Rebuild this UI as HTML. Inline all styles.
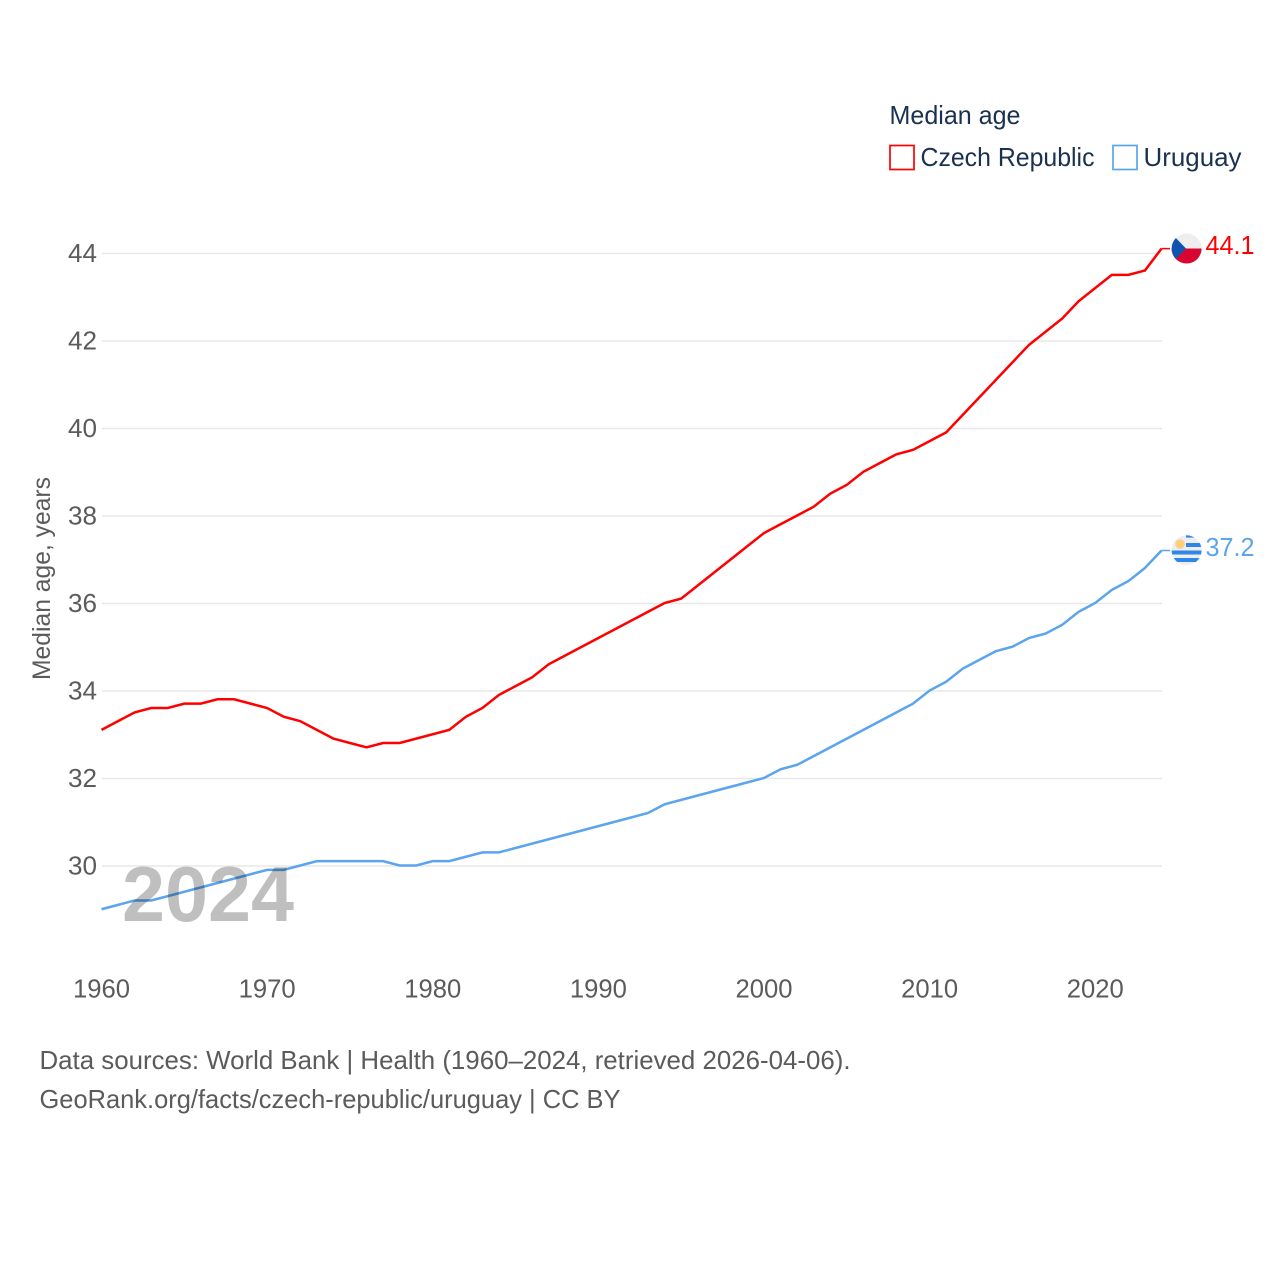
<!DOCTYPE html>
<html lang="en">
<head>
<meta charset="utf-8">
<title>Median age: Czech Republic and Uruguay</title>
<style>
html,body{margin:0;padding:0;background:#fff;}
svg{display:block;}
text{font-family:"Liberation Sans",sans-serif;}
</style>
</head>
<body>
<svg id="chart" width="1280" height="1280" viewBox="0 0 1280 1280" xmlns="http://www.w3.org/2000/svg">
  <defs>
    <clipPath id="flag-clip-cz"><circle cx="1186.6" cy="248.5" r="15"/></clipPath>
    <clipPath id="flag-clip-uy"><circle cx="1186.6" cy="550.3" r="15"/></clipPath>
  </defs>
  <rect x="0" y="0" width="1280" height="1280" fill="#fff"/>
  <g id="grid"></g>
  <g id="yticks"></g>
  <g id="xticks"></g>
  <text transform="translate(50,680) rotate(-90)" font-size="25" fill="#5b5b5b" textLength="203" lengthAdjust="spacingAndGlyphs">Median age, years</text>

  <g id="series"></g>

  <text x="122" y="921" font-size="78" font-weight="700" fill="#000" fill-opacity="0.25" textLength="172" lengthAdjust="spacingAndGlyphs">2024</text>

  <g clip-path="url(#flag-clip-cz)">
    <rect x="1171" y="233" width="31" height="15.5" fill="#eeeeee"/>
    <rect x="1171" y="248.5" width="31" height="15.5" fill="#d7052f"/>
    <polygon points="1171,233 1171,264 1186,248.5" fill="#0f55b0"/>
  </g>
  <text x="1205.5" y="254" font-size="26" fill="#ff0000" textLength="49" lengthAdjust="spacingAndGlyphs">44.1</text>

  <g clip-path="url(#flag-clip-uy)">
    <rect x="1171" y="535" width="31" height="31" fill="#eeeeee"/>
    <rect x="1186" y="535" width="16" height="2.6" fill="#2f86e6"/>
    <rect x="1186" y="543" width="16" height="4" fill="#2f86e6"/>
    <rect x="1171" y="550.5" width="31" height="4" fill="#2f86e6"/>
    <rect x="1171" y="558" width="31" height="4" fill="#2f86e6"/>
    <circle cx="1180" cy="544" r="4.8" fill="#fbc9b0"/>
    <circle cx="1180" cy="544" r="3.4" fill="#fcd55a"/>
  </g>
  <text x="1205.5" y="556" font-size="26" fill="#5ba4ee" textLength="49" lengthAdjust="spacingAndGlyphs">37.2</text>

  <text x="889.5" y="124" font-size="26" fill="#1a3150" textLength="131" lengthAdjust="spacingAndGlyphs">Median age</text>
  <g>
    <rect x="890" y="145.5" width="24" height="24" fill="none" stroke="#ff0000" stroke-width="1.7"/>
    <text x="920.5" y="166" font-size="26" fill="#1a3150" textLength="174" lengthAdjust="spacingAndGlyphs">Czech Republic</text>
  </g>
  <g>
    <rect x="1113" y="145.5" width="24" height="24" fill="none" stroke="#5ba4ee" stroke-width="1.7"/>
    <text x="1143.5" y="166" font-size="26" fill="#1a3150" textLength="98" lengthAdjust="spacingAndGlyphs">Uruguay</text>
  </g>

  <text x="39.5" y="1069" font-size="26" fill="#5b5b5b" textLength="811" lengthAdjust="spacingAndGlyphs">Data sources: World Bank | Health (1960–2024, retrieved 2026-04-06).</text>
  <text x="39.5" y="1108" font-size="26" fill="#5b5b5b" textLength="581" lengthAdjust="spacingAndGlyphs">GeoRank.org/facts/czech-republic/uruguay | CC BY</text>
</svg>
<script>
const startYear = 1960;
const czechRepublic = [33.1,33.3,33.5,33.6,33.6,33.7,33.7,33.8,33.8,33.7,33.6,33.4,33.3,33.1,32.9,32.8,32.7,32.8,32.8,32.9,33.0,33.1,33.4,33.6,33.9,34.1,34.3,34.6,34.8,35.0,35.2,35.4,35.6,35.8,36.0,36.1,36.4,36.7,37.0,37.3,37.6,37.8,38.0,38.2,38.5,38.7,39.0,39.2,39.4,39.5,39.7,39.9,40.3,40.7,41.1,41.5,41.9,42.2,42.5,42.9,43.2,43.5,43.5,43.6,44.1];
const uruguay = [29.0,29.1,29.2,29.2,29.3,29.4,29.5,29.6,29.7,29.8,29.9,29.9,30.0,30.1,30.1,30.1,30.1,30.1,30.0,30.0,30.1,30.1,30.2,30.3,30.3,30.4,30.5,30.6,30.7,30.8,30.9,31.0,31.1,31.2,31.4,31.5,31.6,31.7,31.8,31.9,32.0,32.2,32.3,32.5,32.7,32.9,33.1,33.3,33.5,33.7,34.0,34.2,34.5,34.7,34.9,35.0,35.2,35.3,35.5,35.8,36.0,36.3,36.5,36.8,37.2];
const yTicks = [30,32,34,36,38,40,42,44];
const xTicks = [1960,1970,1980,1990,2000,2010,2020];

const NS = 'http://www.w3.org/2000/svg';
const x = function (year) { return 101.5 + (year - 1960) * (1161.5 - 101.5) / 64; };
const gridY = function (v) { return 866 - (v - 30) * (866 - 253.5) / 14; };
const y = function (v) { return gridY(v) - 0.5; };

const grid = document.getElementById('grid');
const yG = document.getElementById('yticks');
const xG = document.getElementById('xticks');
const seriesG = document.getElementById('series');

yTicks.forEach(function (t) {
  const line = document.createElementNS(NS, 'line');
  
  
  line.setAttribute('x1', 102);
  line.setAttribute('x2', 1162);
  line.setAttribute('y1', gridY(t));
  line.setAttribute('y2', gridY(t));
  line.setAttribute('stroke', '#e8e8e8');
  line.setAttribute('stroke-width', '1.5');
  grid.appendChild(line);

  const label = document.createElementNS(NS, 'text');
  
  
  label.setAttribute('x', 97);
  label.setAttribute('y', gridY(t) + 8.5);
  label.setAttribute('text-anchor', 'end');
  label.setAttribute('font-size', '26');
  label.setAttribute('fill', '#5b5b5b');
  label.setAttribute('textLength', '29');
  label.setAttribute('lengthAdjust', 'spacingAndGlyphs');
  label.textContent = String(t);
  yG.appendChild(label);
});

xTicks.forEach(function (t) {
  const label = document.createElementNS(NS, 'text');
  
  
  label.setAttribute('x', x(t));
  label.setAttribute('y', 997.5);
  label.setAttribute('text-anchor', 'middle');
  label.setAttribute('font-size', '26');
  label.setAttribute('fill', '#5b5b5b');
  label.setAttribute('textLength', '57');
  label.setAttribute('lengthAdjust', 'spacingAndGlyphs');
  label.textContent = String(t);
  xG.appendChild(label);
});

function linePath(values) {
  return values.map(function (v, i) {
    return (i ? 'L' : 'M') + x(startYear + i).toFixed(2) + ' ' + y(v).toFixed(2);
  }).join(' ');
}

const czechLine = document.createElementNS(NS, 'path');


czechLine.setAttribute('d', linePath(czechRepublic));
czechLine.setAttribute('fill', 'none');
czechLine.setAttribute('stroke', '#ff0000');
czechLine.setAttribute('stroke-width', '2.5');
seriesG.appendChild(czechLine);

const uruguayLine = document.createElementNS(NS, 'path');


uruguayLine.setAttribute('d', linePath(uruguay));
uruguayLine.setAttribute('fill', 'none');
uruguayLine.setAttribute('stroke', '#5ba4ee');
uruguayLine.setAttribute('stroke-width', '2.5');
seriesG.appendChild(uruguayLine);

const czechConnector = document.createElementNS(NS, 'line');


czechConnector.setAttribute('x1', x(2024));
czechConnector.setAttribute('x2', 1170);
czechConnector.setAttribute('y1', y(czechRepublic[czechRepublic.length - 1]));
czechConnector.setAttribute('y2', y(czechRepublic[czechRepublic.length - 1]));
czechConnector.setAttribute('stroke', '#ff0000');
czechConnector.setAttribute('stroke-width', '1.5');
seriesG.appendChild(czechConnector);

const uruguayConnector = document.createElementNS(NS, 'line');


uruguayConnector.setAttribute('x1', x(2024));
uruguayConnector.setAttribute('x2', 1170);
uruguayConnector.setAttribute('y1', y(uruguay[uruguay.length - 1]));
uruguayConnector.setAttribute('y2', y(uruguay[uruguay.length - 1]));
uruguayConnector.setAttribute('stroke', '#5ba4ee');
uruguayConnector.setAttribute('stroke-width', '1.5');
seriesG.appendChild(uruguayConnector);
</script>
</body>
</html>
